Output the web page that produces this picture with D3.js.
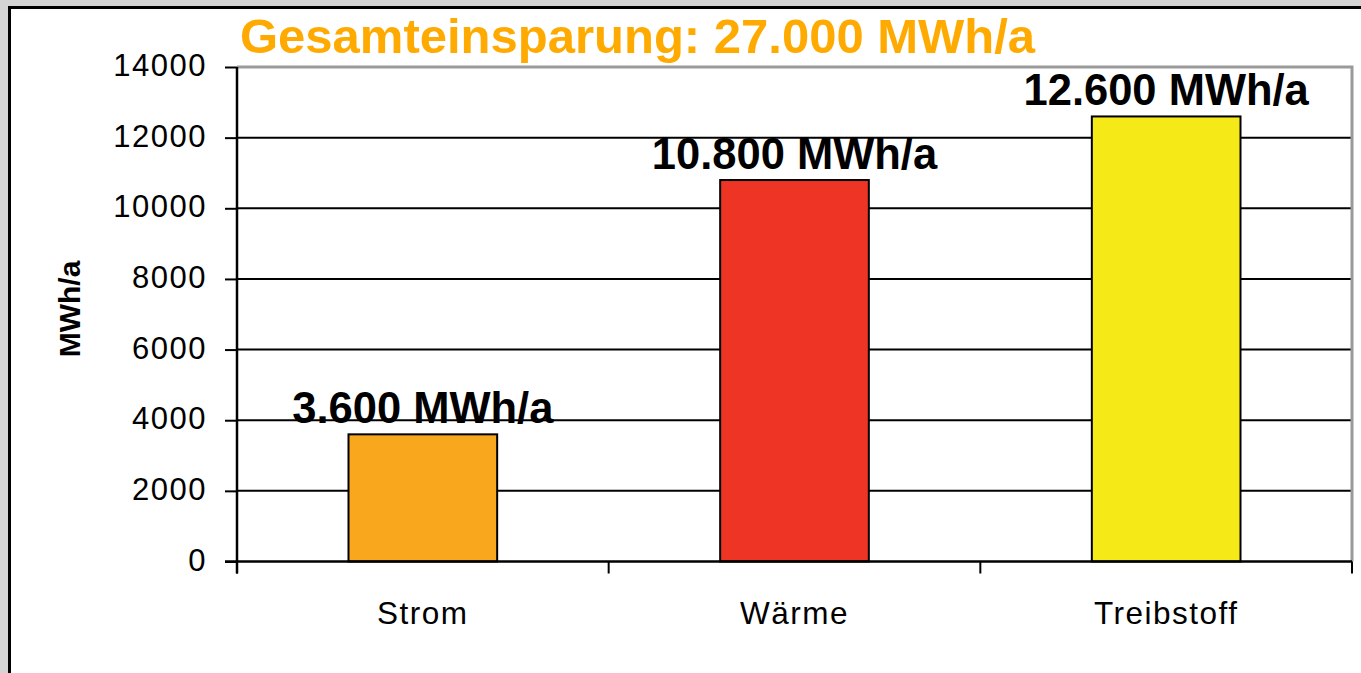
<!DOCTYPE html>
<html>
<head>
<meta charset="utf-8">
<script src="https://cdn.jsdelivr.net/npm/d3@7"></script>
<style>
  html, body { margin: 0; padding: 0; background: #d4d4d4; }
  svg { display: block; }
</style>
</head>
<body>
<div id="chart"></div>
<script>
// chart values
var categories = ['Strom', 'Wärme', 'Treibstoff'];
var values = [3600, 10800, 12600];
var valueLabels = ['3.600 MWh/a', '10.800 MWh/a', '12.600 MWh/a'];
var barColors = ['#f9a81e', '#ee3424', '#f5ea17'];
var yTicks = [0, 2000, 4000, 6000, 8000, 10000, 12000, 14000];
var titleText = 'Gesamteinsparung: 27.000 MWh/a';
var yTitle = 'MWh/a';

var width = 1361;
var height = 673;
var font = '"Liberation Sans", Arial, sans-serif';

var plotLeft = 237, plotRight = 1352, plotTop = 67, plotBottom = 561.5;

var svg = d3.select('#chart').append('svg')
    .attr('width', width)
    .attr('height', height);

// gray page + white panel with black frame
svg.append('rect')
    .attr('x', 0).attr('y', 0)
    .attr('width', width).attr('height', height)
    .attr('fill', '#d4d4d4');
svg.append('rect')
    .attr('x', 9.5).attr('y', 7.5)
    .attr('width', width + 20).attr('height', height + 20)
    .attr('fill', '#ffffff')
    .attr('stroke', '#000')
    .attr('stroke-width', 3);

var yScale = d3.scaleLinear()
    .domain([0, d3.max(yTicks)])
    .range([plotBottom, plotTop]);

var xScale = d3.scaleBand()
    .domain(categories)
    .range([plotLeft, plotRight])
    .paddingInner(0.6)
    .paddingOuter(0.3);

var xCenters = d3.scaleBand()
    .domain(categories)
    .range([plotLeft, plotRight])
    .padding(0);

// gridlines (top value is drawn as gray frame)
svg.append('g')
    .selectAll('line')
    .data(yTicks.filter(function (d) { return d > 0 && d < d3.max(yTicks); }))
    .enter()
    .append('line')
    .attr('x1', plotLeft).attr('x2', plotRight)
    .attr('y1', function (d) { return yScale(d); })
    .attr('y2', function (d) { return yScale(d); })
    .attr('stroke', '#000')
    .attr('stroke-width', 2);

// gray frame top + right
svg.append('path')
    .attr('d', 'M' + plotLeft + ',' + yScale(d3.max(yTicks)) + 'H' + plotRight + 'V' + plotBottom)
    .attr('fill', 'none')
    .attr('stroke', '#9a9a9a')
    .attr('stroke-width', 3);

// bars
svg.append('g')
    .selectAll('rect')
    .data(values)
    .enter()
    .append('rect')
    .attr('x', function (d, i) { return xScale(categories[i]); })
    .attr('width', xScale.bandwidth())
    .attr('y', function (d) { return yScale(d); })
    .attr('height', function (d) { return yScale(0) - yScale(d); })
    .attr('fill', function (d, i) { return barColors[i]; })
    .attr('stroke', '#000')
    .attr('stroke-width', 2);

// bar value labels
svg.append('g')
    .selectAll('text')
    .data(values)
    .enter()
    .append('text')
    .attr('x', function (d, i) { return xScale(categories[i]) + xScale.bandwidth() / 2; })
    .attr('y', function (d) { return yScale(d) - 11; })
    .attr('text-anchor', 'middle')
    .style('font-family', font)
    .style('font-weight', 'bold')
    .style('font-size', '43.5px')
    .attr('fill', '#000')
    .text(function (d, i) { return valueLabels[i]; });

// y axis
var yAxis = d3.axisLeft(yScale)
    .tickValues(yTicks)
    .tickSize(12)
    .tickPadding(18)
    .tickFormat(function (d) { return String(d); });

var yG = svg.append('g')
    .attr('transform', 'translate(' + plotLeft + ',0)')
    .call(yAxis);
yG.select('.domain').remove();
yG.selectAll('line').attr('stroke', '#000').attr('stroke-width', 2);
yG.selectAll('text')
    .attr('dy', '0.28em')
    .style('font-family', font)
    .style('font-size', '31px')
    .style('letter-spacing', '1.5px')
    .attr('fill', '#000');

svg.append('line')
    .attr('x1', plotLeft).attr('x2', plotLeft)
    .attr('y1', plotTop).attr('y2', plotBottom + 12)
    .attr('stroke', '#000')
    .attr('stroke-width', 2.5);

// x axis
svg.append('line')
    .attr('x1', plotLeft - 12).attr('x2', plotRight)
    .attr('y1', plotBottom).attr('y2', plotBottom)
    .attr('stroke', '#000')
    .attr('stroke-width', 2.5);

var boundaries = categories.map(function (c) { return xCenters(c); })
    .concat([xCenters(categories[categories.length - 1]) + xCenters.bandwidth()]);

svg.append('g')
    .selectAll('line')
    .data(boundaries)
    .enter()
    .append('line')
    .attr('x1', function (d) { return d; })
    .attr('x2', function (d) { return d; })
    .attr('y1', plotBottom)
    .attr('y2', plotBottom + 12)
    .attr('stroke', '#000')
    .attr('stroke-width', 2);

svg.append('g')
    .selectAll('text')
    .data(categories)
    .enter()
    .append('text')
    .attr('x', function (d) { return xCenters(d) + xCenters.bandwidth() / 2; })
    .attr('y', plotBottom + 62)
    .attr('text-anchor', 'middle')
    .style('font-family', font)
    .style('font-size', '31.5px')
    .style('letter-spacing', '1.5px')
    .attr('fill', '#000')
    .text(function (d) { return d; });

// y axis title
svg.append('text')
    .attr('transform', 'translate(80,' + 309 + ') rotate(-90)')
    .attr('text-anchor', 'middle')
    .style('font-family', font)
    .style('font-weight', 'bold')
    .style('font-size', '30px')
    .attr('fill', '#000')
    .text(yTitle);

// title
svg.append('text')
    .attr('x', 240)
    .attr('y', 53)
    .style('font-family', font)
    .style('font-weight', 'bold')
    .style('font-size', '49px')
    .attr('fill', '#ffaa00')
    .text(titleText);
</script>
</body>
</html>
